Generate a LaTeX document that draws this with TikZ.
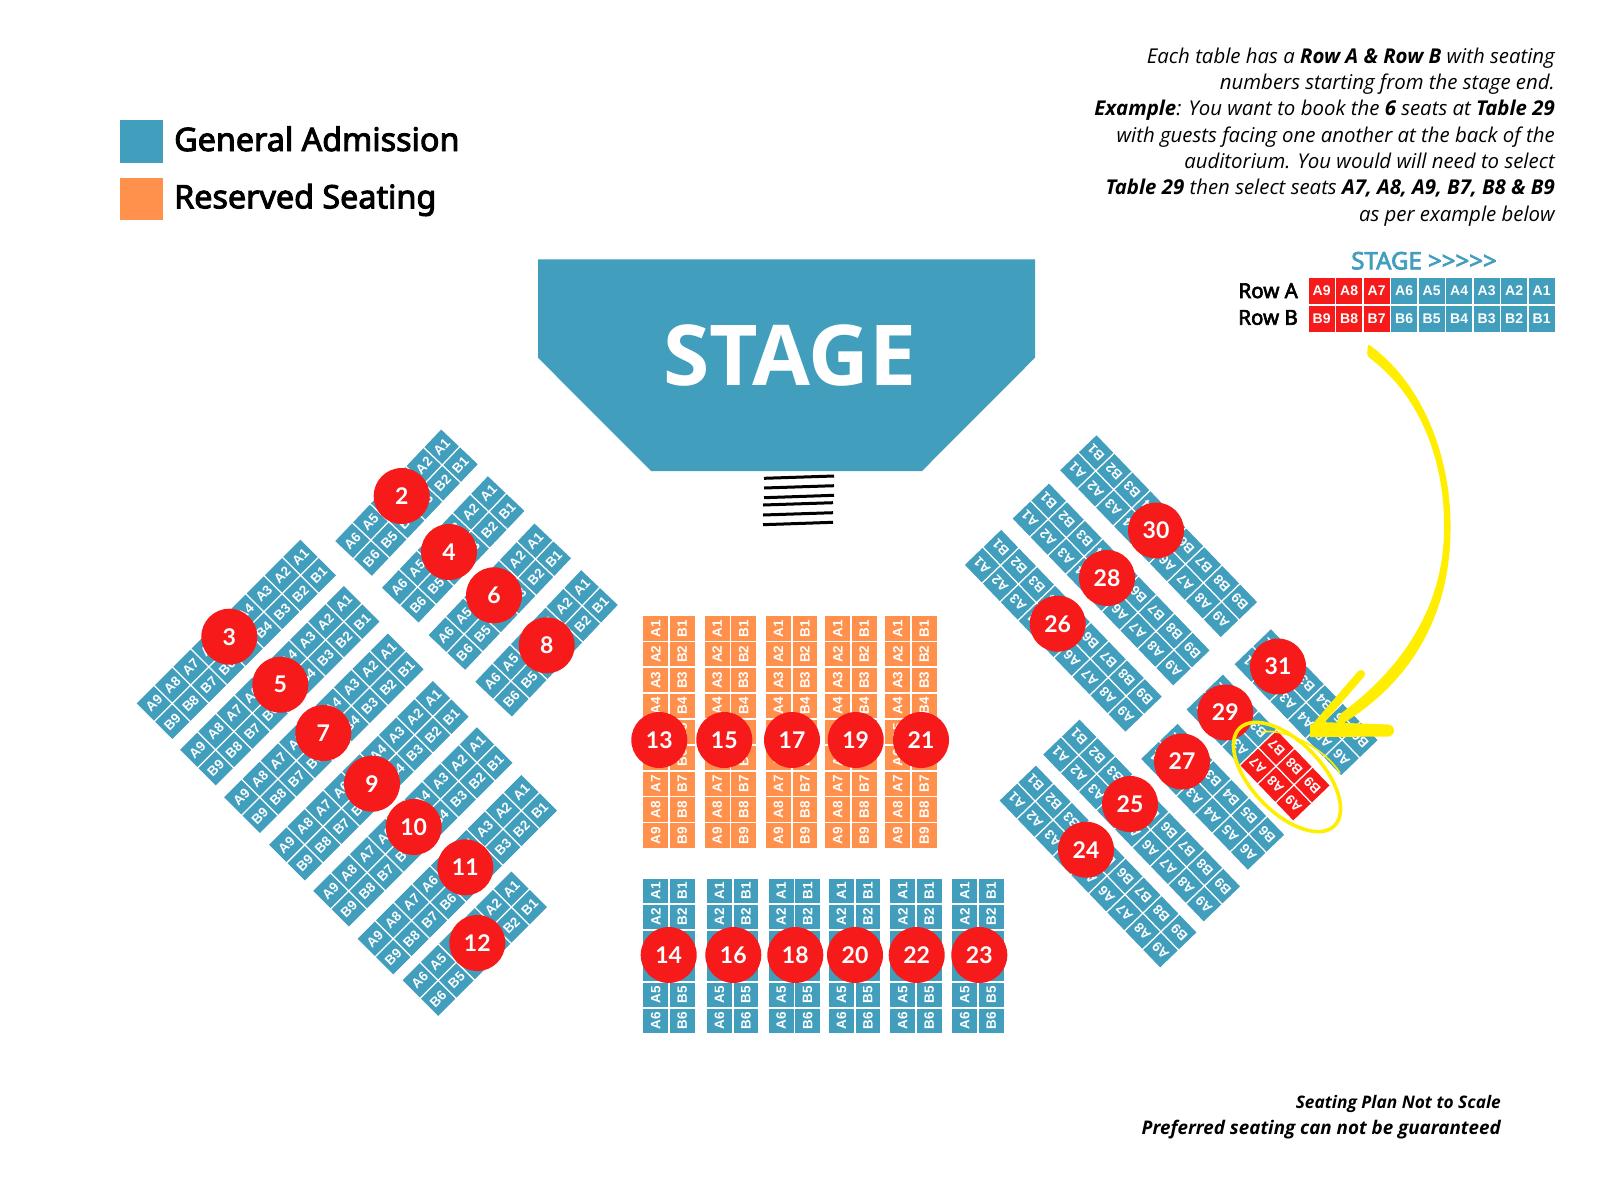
\documentclass[tikz,border=0pt]{standalone}
\usepackage{fontspec}
\setmainfont{Open Sans}
\newfontfamily\numfont{Lato}
\newfontfamily\seatfont{Liberation Sans}
\newfontfamily\headfont[AutoFakeBold=3]{Noto Sans}
\definecolor{seatblue}{HTML}{429EBD}
\definecolor{seatorange}{HTML}{FF914D}
\definecolor{seatred}{HTML}{F61A1A}
\definecolor{marker}{HTML}{FFEE00}
\newcommand{\fsz}[1]{\fontsize{#1}{#1}\selectfont}
\tikzset{
  seat/.style={transform shape,inner sep=0pt,text=white,
    minimum width=\seatP pt-1.6pt,minimum height=\seatQ pt-1.6pt,
    font=\seatfont\bfseries\fsz{\seatF}},
  tnum/.style={circle,fill=seatred,text=white,inner sep=0pt,minimum size=56pt,
    font=\numfont\bfseries\fsz{23}},
  legendbox/.style={inner sep=0pt,minimum size=42.3pt},
  legendtext/.style={anchor=base west,inner sep=0pt,font=\headfont\bfseries\fsz{32.3}},
  rowlabel/.style={anchor=base east,inner sep=0pt,font=\headfont\bfseries\fsz{20.5}},
  footer/.style={anchor=base east,inner sep=0pt},
  stair/.style={black,line width=3pt},
}
% one A/B pair: tag, position, printed number, colour
\newcommand{\seatpair}[4]{%
  \node[seat,fill=#4] (#1a#3) at ({-(#2-.5)*\seatP},{.5*\seatQ}) {A#3};
  \node[seat,fill=#4] (#1b#3) at ({-(#2-.5)*\seatP},{-.5*\seatQ}) {B#3};
}
% tag, x, y (down), angle, seats per row, colour
\newcommand{\seattable}[6]{%
  \begin{scope}[shift={(#2,-#3)},rotate=#4]
    \foreach \s in {1,...,#5}{\seatpair{#1}{\s}{\s}{#6}}
  \end{scope}
}
\begin{document}
\begin{tikzpicture}[x=1pt,y=1pt]
\useasboundingbox (0,0) rectangle (1600,-1200);
\fill[white] (0,0) rectangle (1600,-1200);

% legend
\node[legendbox,fill=seatblue,anchor=north west] (lgblue) at (120,-120) {};
\node[legendbox,fill=seatorange,anchor=north west] (lgorange) at (120,-177.3) {};
\node[legendtext] (lgbluetext) at (174,-151) {General Admission};
\node[legendtext] (lgorangetext) at (174,-208.3) {Reserved Seating};

% note
\node[anchor=north east,inner sep=0pt,align=right,font=\fontsize{20.4}{26.3}\selectfont\itshape] (note) at (1555,-47.5) {%
  Each table has a \textbf{Row A \& Row B} with seating\\
  numbers starting from the stage end.\\
  \textbf{Example}: You want to book the \textbf{6} seats at \textbf{Table 29}\\
  with guests facing one another at the back of the\\
  auditorium. You would will need to select\hspace{4.5pt}\\
  \textbf{Table 29} then select seats \textbf{A7, A8, A9, B7, B8 \& B9}\\
  as per example below};

% stage
\fill[seatblue] (538,-259.3) -- (1035,-259.3) -- (1035,-357.7) -- (922,-471) -- (651,-471) -- (538,-357.7) -- cycle;
\node[anchor=base,inner sep=0pt,text=white,font=\bfseries\fsz{84}] (stagetext) at (790,-385.5) {STAGE};

% steps
\draw[stair] (764,-478.3) -- (834,-476);
\draw[stair] (764,-488) -- (834,-485.7);
\draw[stair] (764,-497.7) -- (834,-495.3);
\draw[stair] (763,-505) -- (833,-502.7);
\draw[stair] (763,-515) -- (833,-512.7);
\draw[stair] (763,-524.7) -- (833,-522.3);

% example row
\node[anchor=base,inner sep=0pt,text=seatblue,font=\headfont\bfseries\fsz{24}] (exstage) at (1424,-269.3) {STAGE >>>>>};
\node[rowlabel] (rowa) at (1298,-298) {Row A};
\node[rowlabel] (rowb) at (1298,-324.7) {Row B};
\def\seatP{27.5}\def\seatQ{28}\def\seatF{14}
\begin{scope}[shift={(1555.4,-305)}]
  \foreach \s in {1,...,6}{\seatpair{ex}{\s}{\s}{seatblue}}
  \foreach \s in {7,8,9}{\seatpair{ex}{\s}{\s}{seatred}}
\end{scope}

% straight tables
\def\seatP{25.87}\def\seatQ{26.4}\def\seatF{13.5}
\seattable{t13}{669}{615.5}{90}{9}{seatorange}
\seattable{t15}{730.4}{615.5}{90}{9}{seatorange}
\seattable{t17}{791.7}{615.5}{90}{9}{seatorange}
\seattable{t19}{851}{615.5}{90}{9}{seatorange}
\seattable{t21}{911}{615.5}{90}{9}{seatorange}
\def\seatP{26}
\seattable{t14}{669}{878}{90}{6}{seatblue}
\seattable{t16}{732.7}{878}{90}{6}{seatblue}
\seattable{t18}{794.4}{878}{90}{6}{seatblue}
\seattable{t20}{854.7}{878}{90}{6}{seatblue}
\seattable{t22}{916}{878}{90}{6}{seatblue}
\seattable{t23}{978}{878}{90}{6}{seatblue}

% left tables
\def\seatQ{26}\def\seatP{25.9}\def\seatF{13.5}
\seattable{t2}{460}{446.3}{46.5}{6}{seatblue}
\seattable{t4}{506.7}{493}{46.5}{6}{seatblue}
\seattable{t6}{553.3}{540.3}{46.5}{6}{seatblue}
\seattable{t8}{600}{587}{46.5}{6}{seatblue}
\seattable{t3}{318.8}{557}{45}{9}{seatblue}
\seattable{t5}{362.2}{603.3}{45}{9}{seatblue}
\seattable{t7}{406.3}{650.8}{45}{9}{seatblue}
\seattable{t9}{451.3}{698.3}{45}{9}{seatblue}
\seattable{t10}{495.3}{744.5}{45}{9}{seatblue}
\seattable{t11}{539.7}{792.2}{45}{9}{seatblue}
\seattable{t12}{529.7}{888.8}{45}{6}{seatblue}

% right tables
\seattable{t30}{1077.8}{452.2}{133.9}{9}{seatblue}
\seattable{t28}{1030.3}{500.5}{133.9}{9}{seatblue}
\seattable{t26}{982.5}{546.8}{133.9}{9}{seatblue}
\seattable{t31}{1252.2}{646.2}{133.9}{6}{seatblue}
\seattable{t27}{1158.8}{740.8}{133.9}{6}{seatblue}
\seattable{t25}{1060.8}{736.5}{133.9}{9}{seatblue}
\seattable{t24}{1017.2}{782.5}{133.9}{9}{seatblue}
\begin{scope}[shift={(1204.2,-691.5)},rotate=133.9]
  \foreach \s in {1,2,3}{\seatpair{t29}{\s}{\s}{seatblue}}
  \seatpair{t29}{4}{7}{seatred}
  \seatpair{t29}{5}{8}{seatred}
  \seatpair{t29}{6}{9}{seatred}
\end{scope}

% table numbers
\foreach \n/\x/\y in {2/401.7/496,4/449/552,6/494/595.3,8/546.7/645.3,3/229.3/636.7,5/280.3/684.7,7/323.3/733,9/372/783.7,10/413.7/827,11/465.3/867.3,12/477.3/943,
  13/659.3/740,15/724.3/740,17/792/740,19/855.7/740,21/921/740,
  14/668.7/955,16/733.3/955,18/795.3/955,20/855/955,22/916.7/955,23/979.3/955,
  30/1156/530.5,28/1107/578,26/1057.7/623.7,31/1278/666.5,29/1225.3/712.5,27/1182/761.5,25/1130/804,24/1086/849.7}
  {\node[tnum] (c\n) at (\x,-\y) {\n};}

% yellow marker
\draw[marker,line width=3.6pt,rotate around={-46:(1287,-777)}] (1287,-777) ellipse [x radius=68,y radius=35];
\draw[marker,line width=1.6pt] (1262,-732) .. controls (1282,-728) and (1322,-745) .. (1340,-773);
\fill[marker,rounded corners=2pt] (1368,-344) .. controls (1425,-385) and (1450.5,-460) .. (1450.5,-527) .. controls (1450.5,-610) and (1415,-682) .. (1335,-728)
  -- (1340,-714) .. controls (1403,-668) and (1444,-605) .. (1444,-527) .. controls (1444,-460) and (1420,-395) .. (1367,-356) -- cycle;
\draw[marker,line width=8pt,line cap=round] (1361,-674) -- (1317,-725);
\fill[marker] (1310,-725) -- (1320,-722) -- (1388,-724.5) arc[start angle=90,end angle=-90,radius=6] -- (1320,-737) -- (1310,-737) -- cycle;

% footer
\node[footer,font=\bfseries\itshape\fsz{17.3}] (foot1) at (1501,-1108) {Seating Plan Not to Scale};
\node[footer,font=\bfseries\itshape\fsz{18.8}] (foot2) at (1501,-1134) {Preferred seating can not be guaranteed};
\end{tikzpicture}
\end{document}
